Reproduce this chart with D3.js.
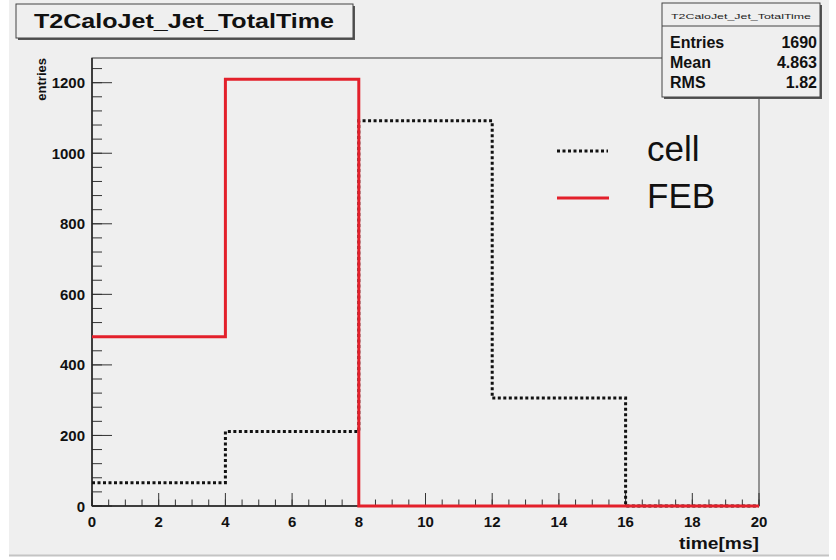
<!DOCTYPE html>
<html>
<head>
<meta charset="utf-8">
<script src="https://cdn.jsdelivr.net/npm/d3@7"></script>
<style>
  html, body { margin: 0; padding: 0; background: #ffffff; }
  svg { display: block; font-family: "Liberation Sans", Arial, Helvetica, sans-serif; }
</style>
</head>
<body>
<svg id="chart" width="836" height="560"></svg>
<script>
// Histogram bin edges (time in ms) and contents per bin
const binEdges = [0, 4, 8, 12, 16, 20];
const cellCounts = [66, 211, 1092, 306, 0];
const febCounts = [480, 1210, 0, 0, 0];

// Axis ticks
const xMajorTicks = [0, 2, 4, 6, 8, 10, 12, 14, 16, 18, 20];
const yMajorTicks = [0, 200, 400, 600, 800, 1000, 1200];

// Statistics box content
const statsTitle = "T2CaloJet_Jet_TotalTime";
const statsNames = ["Entries", "Mean", "RMS"];
const statsValues = ["1690", "4.863", "1.82"];

const legendNames = ["cell", "FEB"];

const svg = d3.select("#chart");
const bg = "#efefef";

// canvas
svg.append("rect").attr("x", 9).attr("y", 0).attr("width", 820).attr("height", 555).attr("fill", bg);
svg.append("line").attr("x1", 9).attr("x2", 829).attr("y1", 555.5).attr("y2", 555.5).attr("stroke", "#c4c4c4").attr("stroke-width", 2);

const x = d3.scaleLinear().domain([0, 20]).range([92, 759]);
const y = d3.scaleLinear().domain([0, 1270]).range([506, 58]);

// frame
svg.append("rect")
  .attr("x", x(0)).attr("y", y(1270))
  .attr("width", x(20) - x(0)).attr("height", y(0) - y(1270))
  .attr("fill", bg).attr("stroke", "#555").attr("stroke-width", 1.2);

// minor and major ticks, drawn inward from the axes
const xMinor = d3.range(0, 20.001, 0.5);
const yMinor = d3.range(0, 1270, 40);
const tickG = svg.append("g").attr("stroke", "#333").attr("stroke-width", 1);
tickG.selectAll(".xm").data(xMinor).join("line")
  .attr("x1", d => x(d)).attr("x2", d => x(d))
  .attr("y1", y(0)).attr("y2", y(0) - 6.5);
tickG.selectAll(".xM").data(xMajorTicks).join("line")
  .attr("x1", d => x(d)).attr("x2", d => x(d))
  .attr("y1", y(0)).attr("y2", y(0) - 13);
tickG.selectAll(".ym").data(yMinor).join("line")
  .attr("x1", x(0)).attr("x2", x(0) + 10)
  .attr("y1", d => y(d)).attr("y2", d => y(d));
tickG.selectAll(".yM").data(yMajorTicks).join("line")
  .attr("x1", x(0)).attr("x2", x(0) + 20)
  .attr("y1", d => y(d)).attr("y2", d => y(d));

// axis lines
svg.append("line").attr("x1", x(0)).attr("x2", x(20)).attr("y1", y(0)).attr("y2", y(0)).attr("stroke", "#222").attr("stroke-width", 1.5);
svg.append("line").attr("x1", x(0)).attr("x2", x(0)).attr("y1", y(0)).attr("y2", y(1270)).attr("stroke", "#222").attr("stroke-width", 1.5);

// tick labels
svg.append("g").selectAll("text").data(xMajorTicks).join("text")
  .attr("x", d => x(d)).attr("y", 527)
  .attr("text-anchor", "middle").attr("font-size", 15).attr("font-weight", "bold").attr("fill", "#111")
  .text(d => d);
svg.append("g").selectAll("text").data(yMajorTicks).join("text")
  .attr("x", 85).attr("y", d => y(d) + 5.5)
  .attr("text-anchor", "end").attr("font-size", 15).attr("font-weight", "bold").attr("fill", "#111")
  .text(d => d);

// axis titles
svg.append("text").attr("x", 759).attr("y", 549).attr("text-anchor", "end")
  .attr("font-size", 16).attr("font-weight", "bold").attr("fill", "#111")
  .attr("textLength", 80).attr("lengthAdjust", "spacingAndGlyphs").text("time[ms]");
svg.append("text").attr("transform", `translate(46,${y(1270)}) rotate(-90)`)
  .attr("text-anchor", "end").attr("font-size", 13).attr("font-weight", "bold").attr("fill", "#111")
  .text("entries");

// step outline of a histogram
function stepPath(counts) {
  const p = d3.path();
  p.moveTo(x(binEdges[0]), y(counts[0]));
  counts.forEach((c, i) => {
    if (i > 0) p.lineTo(x(binEdges[i]), y(c));
    p.lineTo(x(binEdges[i + 1]), y(c));
  });
  return p.toString();
}

svg.append("path").attr("d", stepPath(cellCounts))
  .attr("fill", "none").attr("stroke", "#111").attr("stroke-width", 3)
  .attr("stroke-dasharray", "3,2.5");
svg.append("path").attr("d", stepPath(febCounts))
  .attr("fill", "none").attr("stroke", "#e3202b").attr("stroke-width", 3);

// legend
const legendY = [151, 198];
svg.append("line").attr("x1", 557).attr("x2", 608).attr("y1", legendY[0]).attr("y2", legendY[0])
  .attr("stroke", "#111").attr("stroke-width", 3).attr("stroke-dasharray", "3,2.5");
svg.append("line").attr("x1", 557).attr("x2", 609).attr("y1", legendY[1]).attr("y2", legendY[1])
  .attr("stroke", "#e3202b").attr("stroke-width", 3);
svg.selectAll(".leg").data(legendNames).join("text")
  .attr("x", 647).attr("y", (d, i) => legendY[i] + 10)
  .attr("font-size", 35).attr("fill", "#111").text(d => d);

// title box
svg.append("rect").attr("x", 18).attr("y", 6).attr("width", 337).attr("height", 34).attr("fill", "#555");
svg.append("rect").attr("x", 16).attr("y", 4).attr("width", 337).attr("height", 34)
  .attr("fill", bg).attr("stroke", "#444").attr("stroke-width", 1);
svg.append("text").attr("x", 34).attr("y", 28)
  .attr("font-size", 21).attr("font-weight", "bold").attr("fill", "#111")
  .attr("textLength", 300).attr("lengthAdjust", "spacingAndGlyphs").text(statsTitle);

// statistics box
svg.append("rect").attr("x", 664).attr("y", 5).attr("width", 158).attr("height", 94).attr("fill", "#555");
svg.append("rect").attr("x", 662).attr("y", 3).attr("width", 158).attr("height", 94)
  .attr("fill", bg).attr("stroke", "#444").attr("stroke-width", 1);
svg.append("line").attr("x1", 662).attr("x2", 820).attr("y1", 26).attr("y2", 26).attr("stroke", "#444");
svg.append("text").attr("x", 741).attr("y", 19).attr("text-anchor", "middle")
  .attr("font-size", 8).attr("fill", "#222")
  .attr("textLength", 140).attr("lengthAdjust", "spacingAndGlyphs").text(statsTitle);
const rowY = [48, 68, 88];
svg.selectAll(".sn").data(statsNames).join("text")
  .attr("x", 670).attr("y", (d, i) => rowY[i])
  .attr("font-size", 16).attr("font-weight", "bold").attr("fill", "#111").text(d => d);
svg.selectAll(".sv").data(statsValues).join("text")
  .attr("x", 817).attr("y", (d, i) => rowY[i]).attr("text-anchor", "end")
  .attr("font-size", 16).attr("font-weight", "bold").attr("fill", "#111").text(d => d);
</script>
</body>
</html>
